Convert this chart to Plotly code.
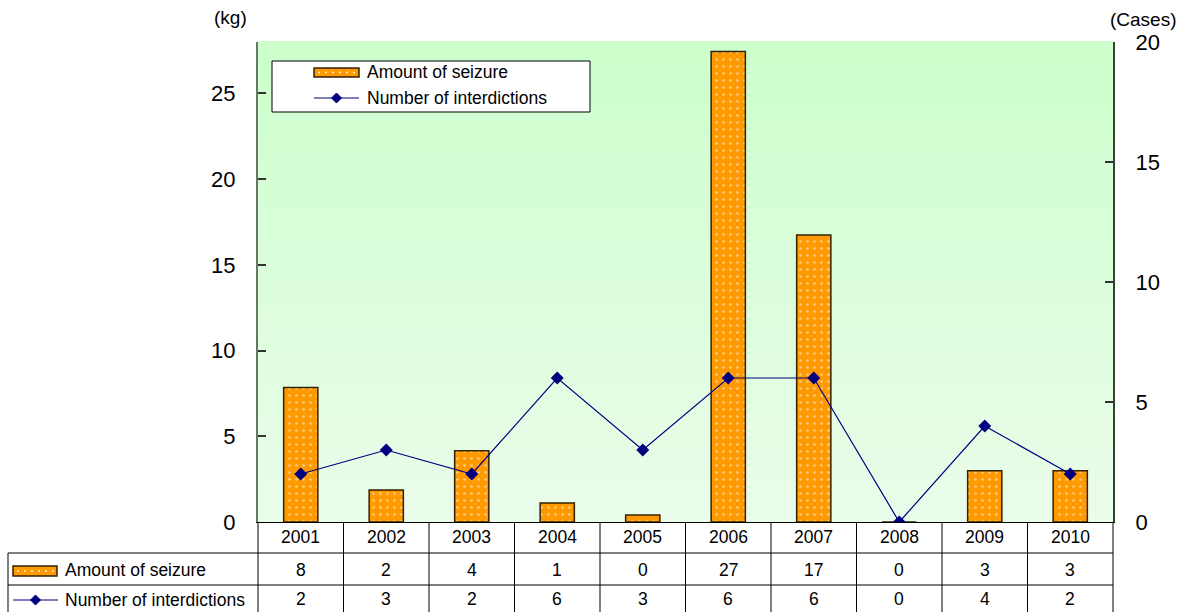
import plotly.graph_objects as go

# ---- data -------------------------------------------------------------
years = ["2001", "2002", "2003", "2004", "2005", "2006", "2007", "2008", "2009", "2010"]
seizure_kg = [7.85, 1.87, 4.16, 1.11, 0.41, 27.45, 16.74, 0.0, 2.99, 2.99]
interdictions = [2, 3, 2, 6, 3, 6, 6, 0, 4, 2]

series_names = ["Amount of seizure", "Number of interdictions"]
kg_ticks = [0, 5, 10, 15, 20, 25]
case_ticks = [0, 5, 10, 15, 20]

# ---- layout geometry (pixels) -----------------------------------------
W, H = 1186, 612
PL, PR, PT, PB = 258, 1113, 42, 522          # plot area edges
FONT = "Arial, Liberation Sans, sans-serif"
BAR_COLOR = "#FF9900"
LINE_COLOR = "#000080"
TXT = 17.5


def px_x(px):
    return (px - PL) / (PR - PL)


def px_y(py):
    return (PB - py) / (PB - PT)


idx = list(range(len(years)))

fig = go.Figure()

fig.add_trace(go.Bar(
    x=idx, y=seizure_kg, width=0.4, name=series_names[0], yaxis="y",
    marker=dict(
        color=BAR_COLOR,
        line=dict(color="#332200", width=1.5),
        pattern=dict(shape=".", fgcolor="white", bgcolor=BAR_COLOR,
                     size=7, solidity=0.12),
    ),
    showlegend=False,
))

fig.add_trace(go.Scatter(
    x=idx, y=interdictions, name=series_names[1], yaxis="y2",
    mode="lines+markers",
    line=dict(color=LINE_COLOR, width=1.2),
    marker=dict(symbol="diamond", size=10, color=LINE_COLOR),
    showlegend=False,
))

shapes = []
annotations = []

# gradient background of the plot area
n_bands = 80
top_rgb = (204, 255, 204)
bot_rgb = (234, 252, 234)
for i in range(n_bands):
    t = i / (n_bands - 1)
    c = tuple(round(b + (a - b) * t) for a, b in zip(top_rgb, bot_rgb))
    shapes.append(dict(
        type="rect", xref="paper", yref="paper", layer="below",
        x0=0, x1=1, y0=i / n_bands, y1=(i + 1) / n_bands + 0.002,
        fillcolor=f"rgb{c}", line=dict(width=0),
    ))


def bar_icon(x0, x1, y0, y1):
    shapes.append(dict(
        type="rect", xref="paper", yref="paper",
        x0=px_x(x0), x1=px_x(x1), y0=px_y(y1), y1=px_y(y0),
        fillcolor=BAR_COLOR, line=dict(color="#332200", width=1.5),
    ))
    ym = (y0 + y1) / 2
    xs = x0 + 5
    while xs < x1 - 3:
        shapes.append(dict(
            type="circle", xref="paper", yref="paper",
            x0=px_x(xs - 0.9), x1=px_x(xs + 0.9),
            y0=px_y(ym + 0.9), y1=px_y(ym - 0.9),
            fillcolor="white", line=dict(width=0),
        ))
        xs += 7


def line_icon(x0, x1, y):
    shapes.append(dict(
        type="line", xref="paper", yref="paper",
        x0=px_x(x0), x1=px_x(x1), y0=px_y(y), y1=px_y(y),
        line=dict(color=LINE_COLOR, width=1.2),
    ))
    cx = (x0 + x1) / 2
    r = 5
    path = (f"M {px_x(cx - r)} {px_y(y)} L {px_x(cx)} {px_y(y - r)} "
            f"L {px_x(cx + r)} {px_y(y)} L {px_x(cx)} {px_y(y + r)} Z")
    shapes.append(dict(
        type="path", xref="paper", yref="paper", path=path,
        fillcolor=LINE_COLOR, line=dict(color=LINE_COLOR, width=1),
    ))


def text(x, y, s, size=TXT, anchor="left"):
    annotations.append(dict(
        xref="paper", yref="paper", x=px_x(x), y=px_y(y), text=s,
        showarrow=False, xanchor=anchor, yanchor="middle",
        font=dict(family=FONT, size=size, color="black"),
    ))


# legend box inside the plot
shapes.append(dict(
    type="rect", xref="paper", yref="paper",
    x0=px_x(272), x1=px_x(590), y0=px_y(112), y1=px_y(61),
    fillcolor="white", line=dict(color="black", width=1),
))
bar_icon(314, 359, 68, 77)
text(365, 72, series_names[0])
line_icon(314, 359, 98)
text(365, 98, series_names[1])

# axis unit labels
text(230, 17, "(kg)", size=19, anchor="center")
text(1143, 19, "(Cases)", size=19, anchor="center")

# ---- data table under the chart ---------------------------------------
col_w = (PR - PL) / len(years)
row_lines = [553, 585]
line_style = dict(color="black", width=1)
for y in row_lines:
    shapes.append(dict(type="line", xref="paper", yref="paper",
                       x0=px_x(8), x1=px_x(PR), y0=px_y(y), y1=px_y(y),
                       line=line_style))
# outer vertical edges
shapes.append(dict(type="line", xref="paper", yref="paper",
                   x0=px_x(8), x1=px_x(8), y0=px_y(553), y1=px_y(H),
                   line=line_style))
for k in range(len(years) + 1):
    xk = PL + k * col_w
    shapes.append(dict(type="line", xref="paper", yref="paper",
                       x0=px_x(xk), x1=px_x(xk), y0=px_y(PB), y1=px_y(H),
                       line=line_style))

for i, yr in enumerate(years):
    text(PL + (i + 0.5) * col_w, 537, yr, anchor="center")
    text(PL + (i + 0.5) * col_w, 570, f"{round(seizure_kg[i])}", anchor="center")
    text(PL + (i + 0.5) * col_w, 599, f"{interdictions[i]}", anchor="center")

bar_icon(13, 57, 566, 576)
text(63, 570, series_names[0])
line_icon(13, 58, 600)
text(63, 600, series_names[1])

axis_common = dict(
    showgrid=False, zeroline=False, ticks="inside", ticklen=8,
    tickcolor="#333333", tickwidth=1.5, showline=True, linewidth=2,
    tickfont=dict(family=FONT, size=22, color="black"),
    ticklabelstandoff=16, fixedrange=True,
)

fig.update_layout(
    width=W, height=H, autosize=False,
    margin=dict(l=PL, r=W - PR, t=PT, b=H - PB, pad=0),
    paper_bgcolor="white", plot_bgcolor="#E0FDE0",
    font=dict(family=FONT, color="black"),
    bargap=0.6, showlegend=False,
    xaxis=dict(range=[-0.5, len(years) - 0.5], showticklabels=False,
               ticks="", showgrid=False, zeroline=False, showline=True,
               linecolor="black", linewidth=1, fixedrange=True),
    yaxis=dict(range=[0, 28], tickvals=kg_ticks, linecolor="#667766",
               **axis_common),
    yaxis2=dict(range=[0, 20], tickvals=case_ticks, overlaying="y",
                side="right", linecolor="#334433", **axis_common),
    shapes=shapes, annotations=annotations,
)

fig.write_html("out.html")
